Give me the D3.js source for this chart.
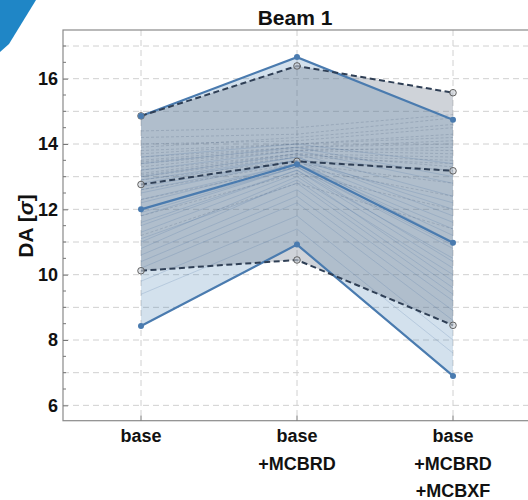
<!DOCTYPE html>
<html><head><meta charset="utf-8">
<script src="https://cdn.jsdelivr.net/npm/d3@7"></script>
<style>body{margin:0;background:#fff;}svg{display:block;font-family:"Liberation Sans",Arial,sans-serif;}</style>
</head><body>
<svg id="c" width="528" height="500"></svg>
<script>
const categories = [["base"], ["base", "+MCBRD"], ["base", "+MCBRD", "+MCBXF"]];
const yTicks = [6, 8, 10, 12, 14, 16];
// solid set: max / mean / min
const solidMax = [14.86, 16.66, 14.74];
const solidMean = [12.0, 13.38, 10.98];
const solidMin = [8.43, 10.92, 6.9];
// dashed set: max / mean / min
const dashMax = [14.86, 16.39, 15.57];
const dashMean = [12.76, 13.47, 13.18];
const dashMin = [10.12, 10.45, 8.45];
// individual runs (estimated)
const solidRuns = [
  [11.5,13.2,10.5],[11.8,13.3,10.8],[12.2,13.4,11.2],[12.5,13.5,11.6],[11.0,13.0,10.0],
  [10.6,12.6,9.2],[10.2,12.2,8.6],[12.8,13.6,12.0],[13.0,13.7,12.4],[11.3,13.1,9.8],
  [12.0,13.3,10.4],[10.8,12.9,9.6],[12.6,13.5,11.0],[11.6,13.2,10.2],[9.8,11.8,8.0],
  [13.2,13.8,12.8],[12.3,13.4,11.4],[11.1,12.8,9.4],[12.9,13.6,11.8],[10.4,12.4,8.9],
  [13.4,13.9,13.0],[11.9,13.3,10.9],[12.7,13.5,12.2],[9.4,11.4,7.6],[13.6,14.0,13.4]
];
const dashRuns = [
  [13.0,13.6,13.4],[13.2,13.7,13.6],[13.4,13.8,13.9],[13.6,13.9,14.1],[13.8,14.0,14.3],
  [14.0,14.1,14.5],[13.1,13.7,13.3],[13.3,13.8,13.7],[13.5,13.9,14.0],[13.7,14.0,14.2],
  [13.9,14.2,14.6],[14.2,14.3,14.8],[12.9,13.5,13.2],[12.6,13.4,12.8],[12.3,13.3,12.4],
  [11.8,13.1,12.0],[11.2,12.8,11.4],[14.4,14.5,14.9],[13.05,13.65,13.5],[13.45,13.85,13.8]
];

const svg = d3.select("#c");
const x = d3.scaleLinear().domain([-0.5, 2.5]).range([63, 531]);
const y = d3.scaleLinear().domain([5.53, 17.49]).range([420.7, 30]);
const idx = [0, 1, 2];

// decorative wedge
svg.append("path").attr("d", "M0,0 L36,0 L9,44 L0,52 Z").attr("fill", "#1f86c6");

// grid
const gy = d3.range(6, 18, 1);
svg.append("g").selectAll("line").data(gy).join("line")
  .attr("x1", 63).attr("x2", 528).attr("y1", d => y(d)).attr("y2", d => y(d))
  .attr("stroke", "#d0d0d0").attr("stroke-width", 1).attr("stroke-dasharray", "6,4");
svg.append("g").selectAll("line").data(idx).join("line")
  .attr("x1", d => x(d)).attr("x2", d => x(d)).attr("y1", 30).attr("y2", 420.7)
  .attr("stroke", "#d0d0d0").attr("stroke-width", 1).attr("stroke-dasharray", "6,4");

const area = (lo, hi) => d3.area().x(i => x(i)).y0(i => y(lo[i])).y1(i => y(hi[i]))(idx);
const line = arr => d3.line().x(i => x(i)).y(i => y(arr[i]))(idx);

svg.append("path").attr("d", area(solidMin, solidMax)).attr("fill", "rgba(70,130,180,0.24)");
svg.append("path").attr("d", area(dashMin, dashMax)).attr("fill", "rgba(95,108,130,0.30)");

svg.append("g").selectAll("path").data(solidRuns).join("path")
  .attr("d", r => line(r)).attr("fill", "none").attr("stroke", "rgba(70,110,160,0.25)").attr("stroke-width", 0.8);
svg.append("g").selectAll("path").data(dashRuns).join("path")
  .attr("d", r => line(r)).attr("fill", "none").attr("stroke", "rgba(60,80,110,0.25)").attr("stroke-width", 0.8)
  .attr("stroke-dasharray", "3,2");

// main lines
const solidCol = "#4a7baf", dashCol = "#2f3f55";
[solidMax, solidMean, solidMin].forEach(arr => {
  svg.append("path").attr("d", line(arr)).attr("fill", "none").attr("stroke", solidCol).attr("stroke-width", 2.2);
});
[dashMax, dashMean, dashMin].forEach(arr => {
  svg.append("path").attr("d", line(arr)).attr("fill", "none").attr("stroke", dashCol).attr("stroke-width", 2)
    .attr("stroke-dasharray", "6,3.5");
});
[dashMax, dashMean, dashMin].forEach(arr => {
  svg.append("g").selectAll("circle").data(idx).join("circle")
    .attr("cx", i => x(i)).attr("cy", i => y(arr[i])).attr("r", 3.3)
    .attr("fill", "rgba(200,205,212,0.6)").attr("stroke", "#555").attr("stroke-width", 0.9);
});
[solidMax, solidMean, solidMin].forEach(arr => {
  svg.append("g").selectAll("circle").data(idx).join("circle")
    .attr("cx", i => x(i)).attr("cy", i => y(arr[i])).attr("r", 3)
    .attr("fill", solidCol);
});

// frame
svg.append("rect").attr("x", 63).attr("y", 30).attr("width", 468).attr("height", 390.7)
  .attr("fill", "none").attr("stroke", "#8a8a8a").attr("stroke-width", 1.2);

// y axis ticks inward
const yAxis = d3.axisLeft(y).tickValues(yTicks).tickSize(-5).tickPadding(5).tickFormat(d3.format("d"));
const ga = svg.append("g").attr("transform", "translate(63,0)").call(yAxis);
ga.select(".domain").remove();
ga.selectAll("line").attr("stroke", "#777");
ga.selectAll("text").attr("font-size", 18).attr("font-weight", "bold").attr("fill", "#111");
const minor = d3.range(6, 17.5, 0.5).filter(v => !yTicks.includes(v));
svg.append("g").selectAll("line").data(minor).join("line")
  .attr("x1", 63).attr("x2", 66).attr("y1", d => y(d)).attr("y2", d => y(d)).attr("stroke", "#777");
// x ticks inward
svg.append("g").selectAll("line").data(idx).join("line")
  .attr("x1", d => x(d)).attr("x2", d => x(d)).attr("y1", 420.7).attr("y2", 415.7).attr("stroke", "#777");

// x labels
const xl = svg.append("g");
categories.forEach((lines, i) => {
  lines.forEach((t, j) => {
    xl.append("text").attr("x", x(i)).attr("y", 442 + j * 27.6).attr("text-anchor", "middle")
      .attr("font-size", 18).attr("font-weight", "bold").attr("fill", "#111").text(t);
  });
});

// title
svg.append("text").attr("x", 295).attr("y", 25).attr("text-anchor", "middle")
  .attr("font-size", 21).attr("font-weight", "bold").attr("fill", "#111").text("Beam 1");

// y label
const yl = svg.append("text").attr("transform", "translate(33,226) rotate(-90)").attr("text-anchor", "middle")
  .attr("font-size", 21).attr("font-weight", "bold").attr("fill", "#111");
yl.append("tspan").text("DA [");
yl.append("tspan").attr("font-style", "italic").text("σ");
yl.append("tspan").text("]");
</script>
</body></html>
